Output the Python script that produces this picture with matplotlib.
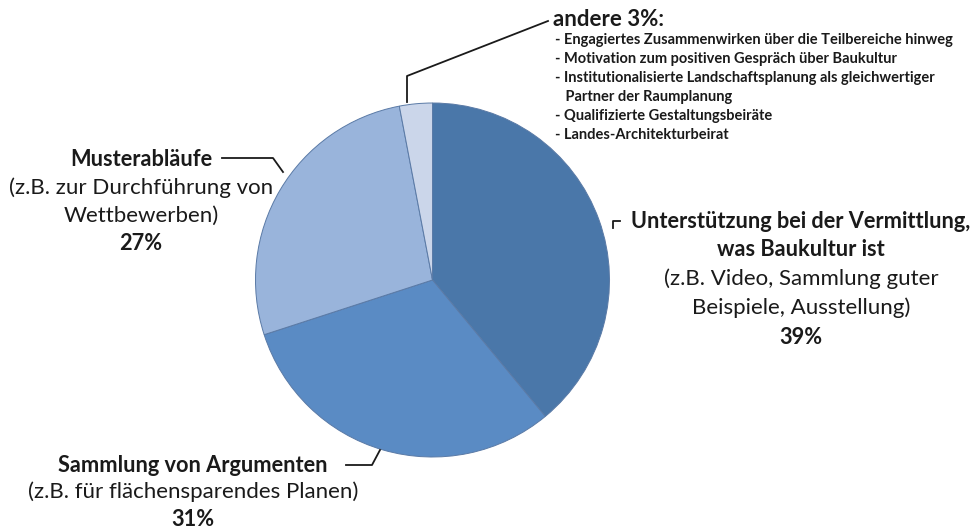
import matplotlib
matplotlib.use("Agg")
import matplotlib.pyplot as plt

plt.rcParams['font.family'] = ['Lato', 'DejaVu Sans']

categories = ["Unterstützung bei der Vermittlung, was Baukultur ist",
              "Sammlung von Argumenten",
              "Musterabläufe",
              "andere"]
values = [39, 31, 27, 3]
colors = ["#4a77a9", "#5a8bc4", "#99b4db", "#cbd6ea"]
andere_items = ["- Engagiertes Zusammenwirken über die Teilbereiche hinweg",
                "- Motivation zum positiven Gespräch über Baukultur",
                "- Institutionalisierte Landschaftsplanung als gleichwertiger",
                "   Partner der Raumplanung",
                "- Qualifizierte Gestaltungsbeiräte",
                "- Landes-Architekturbeirat"]

W, H = 978, 530
fig = plt.figure(figsize=(W / 100, H / 100), dpi=100)
ax = fig.add_axes([0, 0, 1, 1])

def Y(y):
    return H - y

ax.pie(values, colors=colors, startangle=90, counterclock=False,
       center=(432.5, Y(280)), radius=177, frame=True,
       wedgeprops=dict(edgecolor="#5a7aa6", linewidth=0.7))
ax.set_xlim(0, W)
ax.set_ylim(0, H)
ax.set_aspect('equal')
ax.axis('off')

lc = "#1a1a1a"
# leader lines
ax.plot([407, 407, 548], [Y(102), Y(76), Y(21)], color=lc, lw=1.3)
ax.plot([222, 273, 283], [Y(158), Y(158), Y(172)], color=lc, lw=1.3)
ax.plot([346, 372, 380], [Y(465), Y(465), Y(450)], color=lc, lw=1.3)
ax.plot([613, 613, 620], [Y(228), Y(221), Y(221)], color=lc, lw=1.3)

tc = "#1a1a1a"
big = 16
# Unterstützung
ax.text(801, Y(222), "Unterstützung bei der Vermittlung,", ha='center', va='center',
        fontsize=15.7, fontweight='bold', color=tc)
ax.text(801, Y(250), "was Baukultur ist", ha='center', va='center',
        fontsize=15.7, fontweight='bold', color=tc)
ax.text(801, Y(279), "(z.B. Video, Sammlung guter", ha='center', va='center',
        fontsize=big, color=tc)
ax.text(801, Y(308), "Beispiele, Ausstellung)", ha='center', va='center',
        fontsize=big, color=tc)
ax.text(801, Y(337), f"{values[0]}%", ha='center', va='center',
        fontsize=15.7, fontweight='bold', color=tc)

# Sammlung
ax.text(193, Y(465), "Sammlung von Argumenten", ha='center', va='center',
        fontsize=15.7, fontweight='bold', color=tc)
ax.text(193, Y(492), "(z.B. für flächensparendes Planen)", ha='center', va='center',
        fontsize=big, color=tc)
ax.text(193, Y(519), f"{values[1]}%", ha='center', va='center',
        fontsize=15.7, fontweight='bold', color=tc)

# Musterabläufe
ax.text(141, Y(160), "Musterabläufe", ha='center', va='center',
        fontsize=15.7, fontweight='bold', color=tc)
ax.text(141, Y(188), "(z.B. zur Durchführung von", ha='center', va='center',
        fontsize=big, color=tc)
ax.text(141, Y(216), "Wettbewerben)", ha='center', va='center',
        fontsize=big, color=tc)
ax.text(141, Y(243), f"{values[2]}%", ha='center', va='center',
        fontsize=15.7, fontweight='bold', color=tc)

# andere
ax.text(553, Y(19), f"andere {values[3]}%:", ha='left', va='center',
        fontsize=16, fontweight='bold', color=tc)
for i, item in enumerate(andere_items):
    ax.text(555, Y(40 + i * 19), item, ha='left', va='center',
            fontsize=10.5, fontweight='bold', color=tc)

fig.savefig("out.png", dpi=100)
